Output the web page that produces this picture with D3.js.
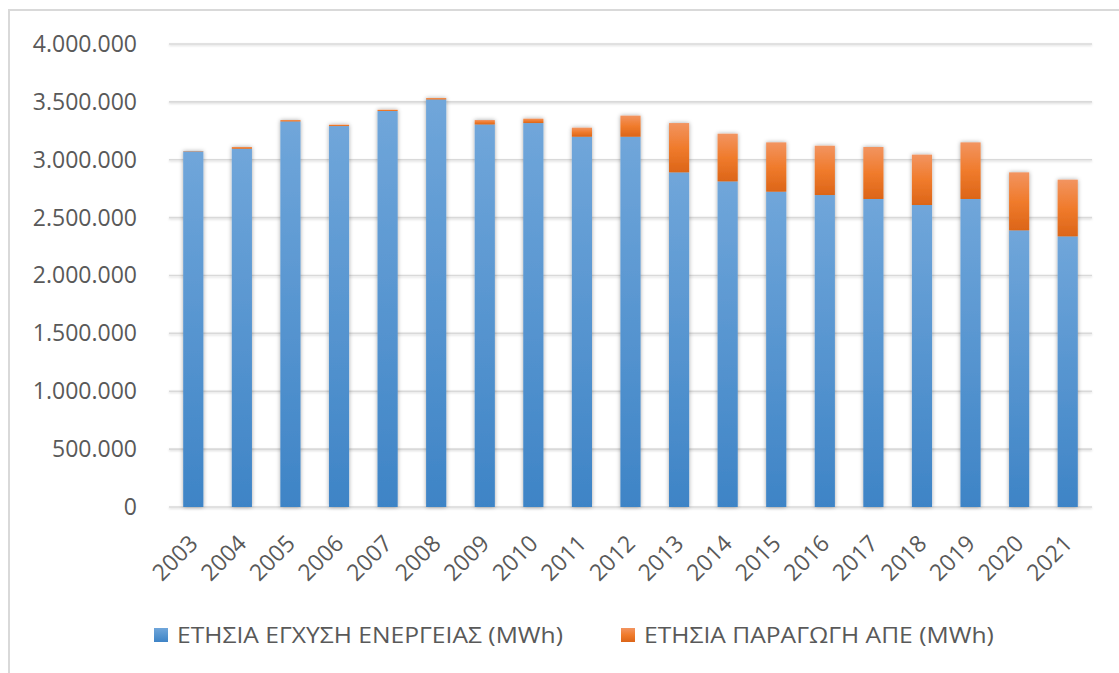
<!DOCTYPE html>
<html>
<head>
<meta charset="utf-8">
<script src="https://cdn.jsdelivr.net/npm/d3@7"></script>
<style>
  html, body { margin: 0; padding: 0; background: #fff; }
  svg { display: block; }
  text { font-family: "Open Sans", "Noto Sans", sans-serif; fill: #595959; }
</style>
</head>
<body>
<svg id="chart" width="1119" height="673"></svg>
<script>
// ---- data ----
const years = ["2003","2004","2005","2006","2007","2008","2009","2010","2011","2012",
               "2013","2014","2015","2016","2017","2018","2019","2020","2021"];
const injection = [3072000, 3095000, 3331000, 3291000, 3421000, 3521000, 3305000, 3317000, 3199000, 3199000,
                   2891000, 2813000, 2724000, 2695000, 2661000, 2609000, 2661000, 2390000, 2338000];
const resProduction = [3000, 15000, 12000, 12000, 11000, 12000, 38000, 38000, 78000, 182000,
                       426000, 412000, 426000, 426000, 449000, 435000, 489000, 501000, 490000];
const seriesNames = ["ΕΤΗΣΙΑ ΕΓΧΥΣΗ ΕΝΕΡΓΕΙΑΣ (MWh)", "ΕΤΗΣΙΑ ΠΑΡΑΓΩΓΗ ΑΠΕ (MWh)"];
const yTicks = [0, 500000, 1000000, 1500000, 2000000, 2500000, 3000000, 3500000, 4000000];

// ---- layout ----
const svg = d3.select("#chart");
const plot = { left: 169, right: 1092, top: 44, bottom: 507 };

const rows = years.map((y, i) => ({ year: y, inj: injection[i], res: resProduction[i] }));
const stack = d3.stack().keys(["inj", "res"])(rows);

const x = d3.scaleBand().domain(years).range([plot.left, plot.right])
  .paddingInner(0.585).paddingOuter(0.2925);
const y = d3.scaleLinear().domain([0, 4000000]).range([plot.bottom, plot.top]);

const loc = d3.formatLocale({ decimal: ",", thousands: ".", grouping: [3], currency: ["", ""] });
const fmt = loc.format(",d");

// ---- defs ----
const defs = svg.append("defs");
function grad(id, stops) {
  const g = defs.append("linearGradient").attr("id", id)
    .attr("x1", 0).attr("y1", 0).attr("x2", 0).attr("y2", 1);
  stops.forEach(s => g.append("stop").attr("offset", s[0]).attr("stop-color", s[1]));
}
grad("gBlue", [[0, "#70a6da"], [1, "#3e84c6"]]);
grad("gOrange", [[0, "#f29460"], [0.5, "#f07b2c"], [1, "#dc6518"]]);
const sh = defs.append("filter").attr("id", "shadow")
  .attr("x", "-50%").attr("y", "-10%").attr("width", "200%").attr("height", "120%");
sh.append("feDropShadow").attr("dx", 0).attr("dy", 0).attr("stdDeviation", 2.2)
  .attr("flood-color", "#000").attr("flood-opacity", 0.35);
const gsh = defs.append("filter").attr("id", "gshadow")
  .attr("x", "-5%").attr("y", "-200%").attr("width", "110%").attr("height", "500%");
gsh.append("feDropShadow").attr("dx", 0).attr("dy", 1).attr("stdDeviation", 1)
  .attr("flood-color", "#000").attr("flood-opacity", 0.15);

// ---- frame ----
svg.append("rect").attr("x", 9).attr("y", 10).attr("width", 1300).attr("height", 900)
  .attr("fill", "none").attr("stroke", "#d9d9d9").attr("stroke-width", 2);

// ---- gridlines ----
const grid = svg.append("g").attr("filter", "url(#gshadow)");
grid.selectAll("line").data(yTicks).join("line")
  .attr("x1", plot.left).attr("x2", plot.right)
  .attr("y1", d => y(d)).attr("y2", d => y(d))
  .attr("stroke", "#d9d9d9").attr("stroke-width", 1.6);

// ---- y axis labels ----
const yAxis = d3.axisLeft(y).tickValues(yTicks).tickFormat(fmt).tickSize(0).tickPadding(0);
const ya = svg.append("g").attr("transform", `translate(137,0)`).call(yAxis);
ya.select(".domain").remove();
ya.selectAll("text").attr("font-size", 23).attr("fill", "#595959")
  .style("font-family", '"Open Sans", sans-serif');

// ---- bars ----
const fills = ["url(#gBlue)", "url(#gOrange)"];
const barsG = svg.append("g").attr("filter", "url(#shadow)");
barsG.selectAll("g.series").data(stack).join("g").attr("class", "series")
  .attr("fill", (d, i) => fills[i])
  .selectAll("rect").data(d => d).join("rect")
  .attr("x", d => x(d.data.year))
  .attr("width", x.bandwidth())
  .attr("y", d => y(d[1]))
  .attr("height", d => Math.max(0, y(d[0]) - y(d[1])));

// ---- x axis labels ----
const xAxis = d3.axisBottom(x).tickSize(0).tickPadding(0);
const xa = svg.append("g").attr("transform", `translate(0,${plot.bottom})`).call(xAxis);
xa.select(".domain").remove();
xa.selectAll(".tick text")
  .attr("font-size", 23).attr("fill", "#595959")
  .style("font-family", '"Open Sans", sans-serif')
  .attr("text-anchor", "end").attr("dy", 0).attr("y", 0)
  .attr("transform", "translate(6,38) rotate(-45)");

// ---- legend ----
const legendX = [154, 621];
const leg = svg.append("g");
const items = leg.selectAll("g").data(seriesNames).join("g")
  .attr("transform", (d, i) => `translate(${legendX[i]},628)`);
items.append("rect").attr("width", 14).attr("height", 14).attr("fill", (d, i) => fills[i]);
items.append("text").attr("x", 23).attr("y", 7).attr("dy", "0.36em")
  .attr("font-size", 22).text(d => d)
  .each(function () {
    const w = this.getComputedTextLength();
    d3.select(this).attr("textLength", w * 1.12).attr("lengthAdjust", "spacingAndGlyphs");
  });
</script>
</body>
</html>
